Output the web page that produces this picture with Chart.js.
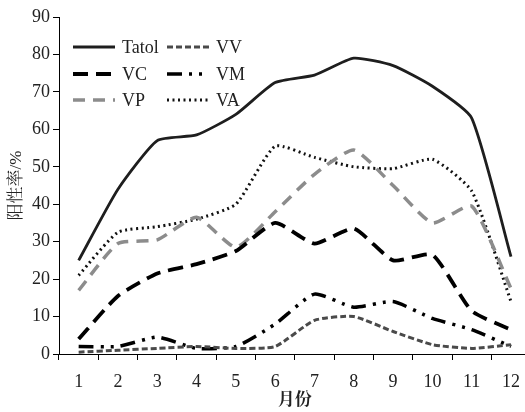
<!DOCTYPE html>
<html>
<head>
<meta charset="utf-8">
<script src="https://cdn.jsdelivr.net/npm/chart.js@4.4.1/dist/chart.umd.min.js"></script>
<style>
  html, body { margin: 0; padding: 0; background: #fff; overflow: hidden; }
  #wrap { position: relative; width: 531px; height: 412px; }
</style>
</head>
<body>
<div id="wrap"><canvas id="lineChart"></canvas></div>
<script>
const months = ['1', '2', '3', '4', '5', '6', '7', '8', '9', '10', '11', '12'];
const tatol = [25, 44, 57, 58.5, 64, 72.5, 74.5, 79, 77, 71.5, 63, 26];
const vv = [0.5, 1, 1.5, 2, 1.5, 2, 9, 10, 6, 2.5, 1.5, 2.5];
const vc = [4, 15.5, 21.5, 24, 27.5, 35, 29.5, 33.5, 25, 26.5, 11.5, 6.5];
const vm = [2, 2, 4.5, 1.5, 2, 8, 16, 12.5, 14, 9.5, 6.5, 2];
const vp = [17, 29.5, 30.5, 36.5, 28.5, 38, 48, 54.5, 45, 35, 39.5, 17.5];
const va = [21, 32.5, 34, 36, 40, 55.5, 52.5, 50, 49.5, 52, 43.5, 14];
const yTicks = [0, 10, 20, 30, 40, 50, 60, 70, 80, 90];

const serif = "'Liberation Serif', 'Times New Roman', 'Noto Serif CJK SC', 'Noto Sans CJK SC', serif";

const data1 = {
    labels: months,
    datasets: [
        { label: 'Tatol', data: tatol, borderColor: '#1e1e1e', borderWidth: 2.8, borderDash: [] },
        { label: 'VV', data: vv, borderColor: '#4a4a4a', borderWidth: 3, borderDash: [6, 3] },
        { label: 'VC', data: vc, borderColor: '#000', borderWidth: 3.8, borderDash: [15, 8] },
        { label: 'VM', data: vm, borderColor: '#000', borderWidth: 3.5, borderDash: [15, 7, 3, 7, 3, 7] },
        { label: 'VP', data: vp, borderColor: '#8c8c8c', borderWidth: 3.5, borderDash: [12, 8] },
        { label: 'VA', data: va, borderColor: '#111', borderWidth: 3, borderDash: [2, 3.5] }
    ]
};
data1.datasets.forEach(ds => {
    ds.fill = false;
    ds.pointRadius = 0;
    ds.tension = 0.18;
});

// legend drawn inside the plot, two columns
const legendLayout = [['Tatol', 'VV'], ['VC', 'VM'], ['VP', 'VA']];
const insideLegend = {
    id: 'insideLegend',
    afterDraw(chart) {
        const ctx = chart.ctx;
        const colX = [73, 167];
        const rowY = [47, 74, 100];
        ctx.save();
        ctx.font = '18px ' + serif;
        ctx.textBaseline = 'middle';
        ctx.fillStyle = '#222';
        legendLayout.forEach((row, r) => {
            row.forEach((name, c) => {
                const ds = chart.data.datasets.find(d => d.label === name);
                ctx.beginPath();
                ctx.setLineDash(ds.borderDash);
                ctx.strokeStyle = ds.borderColor;
                ctx.lineWidth = ds.borderWidth;
                ctx.moveTo(colX[c], rowY[r]);
                ctx.lineTo(colX[c] + 42, rowY[r]);
                ctx.stroke();
                ctx.setLineDash([]);
                ctx.fillText(name, colX[c] + 49, rowY[r] + 1);
            });
        });
        ctx.restore();
    }
};

const options1 = {
    responsive: true,
    maintainAspectRatio: false,
    animation: false,
    layout: { padding: { top: 17, right: 0, left: 0, bottom: 0 } },
    plugins: {
        legend: { display: false },
        tooltip: { enabled: false }
    },
    scales: {
        x: {
            offset: true,
            grid: { offset: true, drawOnChartArea: false, color: '#000', tickLength: 6 },
            border: { color: '#000', width: 1 },
            ticks: { color: '#222', padding: 11, maxRotation: 0, font: { family: serif, size: 18 } },
            title: { display: true, text: '月份', color: '#222', padding: { bottom: 1 }, font: { family: serif, size: 17, weight: 'bold' } },
            afterFit: s => { s.height = 58; }
        },
        y: {
            min: 0,
            max: 90,
            afterBuildTicks: s => { s.ticks = yTicks.map(v => ({ value: v })); },
            grid: { drawOnChartArea: false, color: '#000', tickLength: 6 },
            border: { color: '#000', width: 1 },
            ticks: { color: '#222', padding: 3, font: { family: serif, size: 18 } },
            title: { display: true, text: '阳性率/%', color: '#222', padding: { top: 6 }, font: { family: serif, size: 17 } },
            afterFit: s => { s.width = 59; }
        }
    }
};

const lineChart = new Chart(document.getElementById('lineChart'), {
    type: 'line',
    data: data1,
    options: options1,
    plugins: [insideLegend]
});
</script>
</body>
</html>
